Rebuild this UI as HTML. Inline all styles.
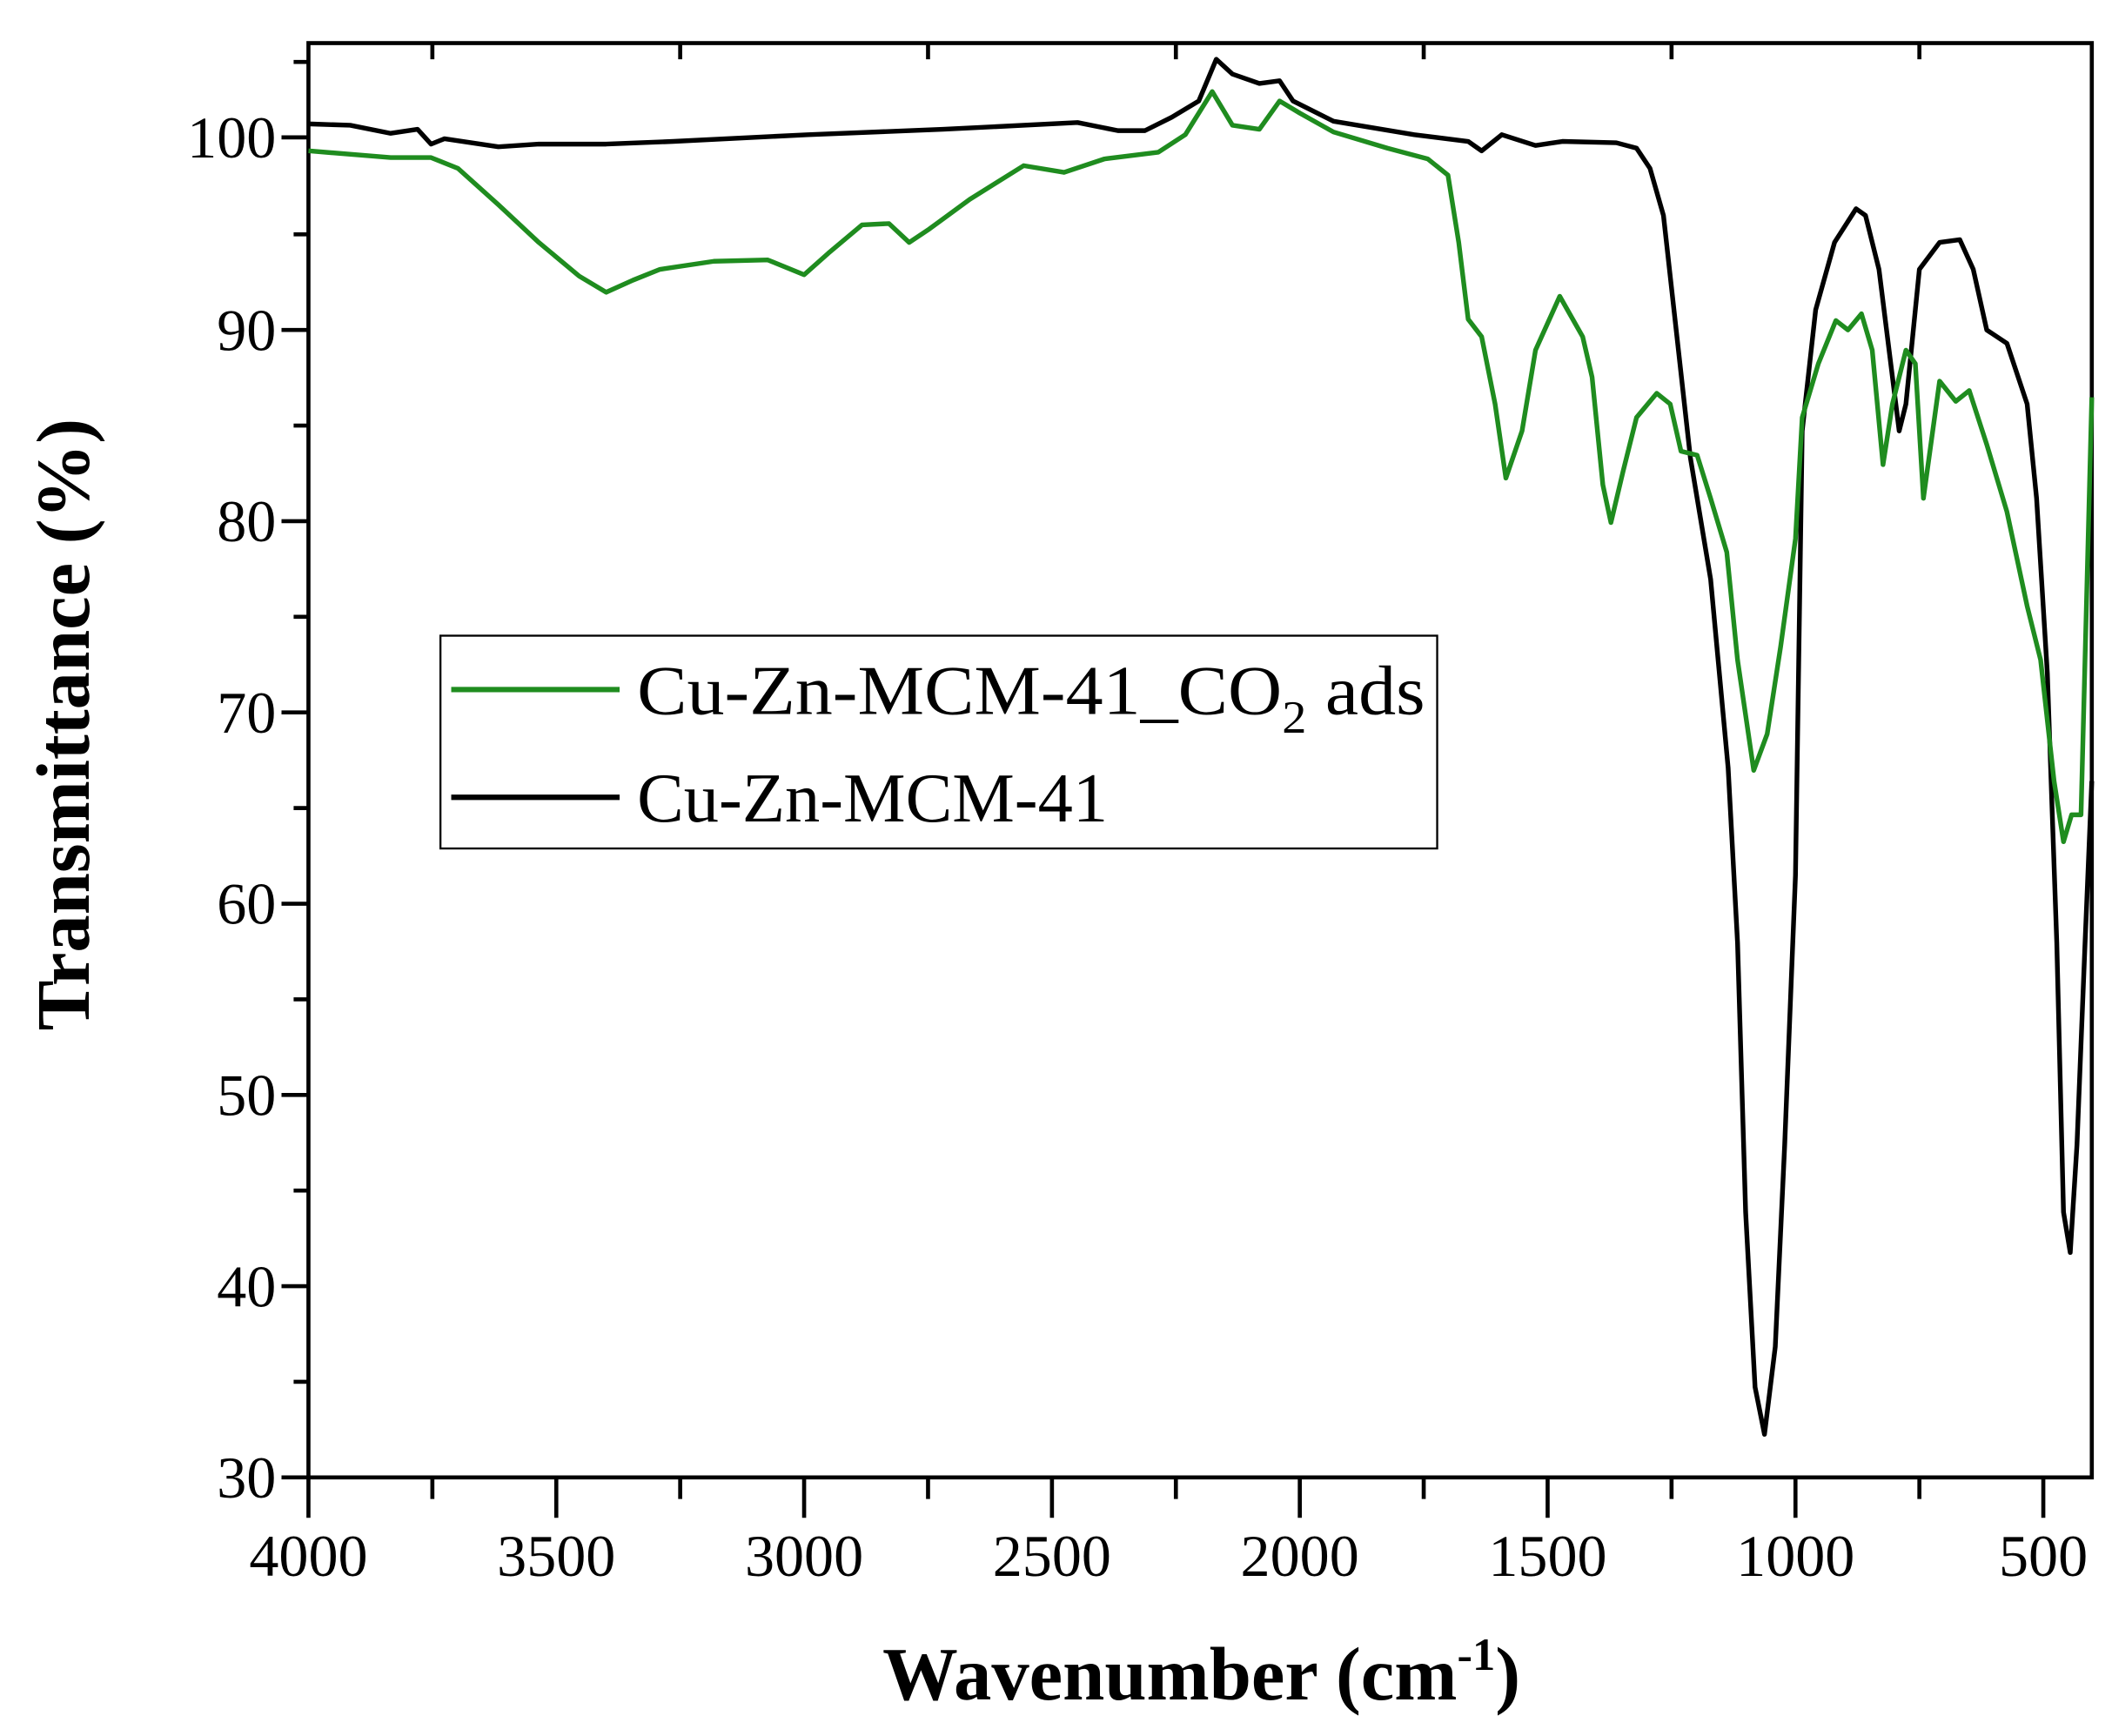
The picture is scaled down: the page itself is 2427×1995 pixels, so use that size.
<!DOCTYPE html>
<html><head><style>html,body{margin:0;padding:0;background:#fff}svg{display:block}</style></head><body>
<svg width="2427" height="1995" viewBox="0 0 1568 1289" preserveAspectRatio="none" xmlns="http://www.w3.org/2000/svg" font-family="'Liberation Serif', serif">
<rect width="1568" height="1289" fill="#fff"/>
<g stroke="#000" stroke-width="3" fill="none">
<rect x="229" y="32" width="1324" height="1065"/>
<path d="M229,1097v30M413,1097v30M597,1097v30M781,1097v30M965,1097v30M1149,1097v30M1333,1097v30M1517,1097v30"/>
<path d="M321,1097v16M505,1097v16M689,1097v16M873,1097v16M1057,1097v16M1241,1097v16M1425,1097v16"/>
<path d="M321,32v12M505,32v12M689,32v12M873,32v12M1057,32v12M1241,32v12M1425,32v12"/>
<path d="M229,1097h-20M229,955h-20M229,813h-20M229,671h-20M229,529h-20M229,387h-20M229,245h-20M229,102h-20"/>
<path d="M229,1026h-11M229,884h-11M229,742h-11M229,600h-11M229,458h-11M229,316h-11M229,174h-11M229,46h-11"/>
</g>
<g font-size="44" text-anchor="end" fill="#000">
<text x="205" y="1112">30</text><text x="205" y="970">40</text><text x="205" y="828">50</text><text x="205" y="686">60</text><text x="205" y="544">70</text><text x="205" y="402">80</text><text x="205" y="260">90</text><text x="205" y="117">100</text>
</g>
<g font-size="44" text-anchor="middle" fill="#000">
<text x="229" y="1170">4000</text><text x="413" y="1170">3500</text><text x="597" y="1170">3000</text><text x="781" y="1170">2500</text><text x="965" y="1170">2000</text><text x="1149" y="1170">1500</text><text x="1333" y="1170">1000</text><text x="1517" y="1170">500</text>
</g>
<text x="892" y="1262" font-size="56" font-weight="bold" text-anchor="middle">Wavenumber (cm<tspan font-size="34" dy="-22">-1</tspan><tspan dy="22">)</tspan></text>
<text transform="translate(66,538) rotate(-90)" font-size="56" font-weight="bold" text-anchor="middle">Transmittance (%)</text>
<polyline fill="none" stroke="#000" stroke-width="3.5" stroke-linejoin="round" points="229,92 260,93 290,99 310,96 320,107 330,103 370,109 400,107 450,107 500,105 600,100 700,96 800,91 830,97 850,97 870,87 890,75 903,44 915,55 935,62 950,60 960,75 990,90 1050,100 1090,105 1100,112 1115,100 1140,108 1160,105 1200,106 1215,110 1225,125 1235,160 1245,250 1255,340 1270,430 1283,570 1290,700 1296,900 1303,1030 1310,1065 1318,1000 1325,850 1333,650 1338,320 1348,230 1362,180 1378,155 1385,160 1395,200 1405,280 1410,320 1415,300 1425,200 1440,180 1455,178 1465,200 1475,245 1490,255 1505,300 1512,370 1520,500 1527,700 1532,900 1537,930 1542,850 1548,700 1553,580"/>
<polyline fill="none" stroke="#1f8c1f" stroke-width="3.5" stroke-linejoin="round" points="229,112 290,117 320,117 340,125 370,152 400,180 430,205 450,217 470,208 490,200 530,194 570,193 597,204 615,188 640,167 660,166 675,180 690,170 720,148 760,123 790,128 820,118 860,113 880,100 900,68 915,93 935,96 950,75 965,84 990,98 1030,110 1060,118 1075,130 1083,180 1090,237 1100,250 1110,300 1118,355 1130,320 1140,260 1158,220 1175,250 1182,280 1190,360 1196,388 1205,350 1215,310 1230,292 1240,300 1248,335 1260,338 1270,370 1282,410 1290,490 1302,572 1312,545 1322,480 1333,400 1338,310 1350,270 1363,238 1372,245 1382,233 1390,260 1398,345 1405,300 1415,260 1422,270 1428,370 1440,283 1452,298 1462,290 1475,330 1490,380 1505,450 1515,490 1525,580 1532,625 1538,605 1545,605 1553,295"/>
<rect x="327" y="472" width="740" height="158" fill="#fff" stroke="#000" stroke-width="1.5"/>
<line x1="335" y1="512" x2="460" y2="512" stroke="#1f8c1f" stroke-width="4"/>
<line x1="335" y1="592" x2="460" y2="592" stroke="#000" stroke-width="4"/>
<text x="473" y="530" font-size="52" textLength="585" lengthAdjust="spacingAndGlyphs">Cu-Zn-MCM-41_CO<tspan font-size="34" dy="14">2</tspan><tspan dy="-14"> ads</tspan></text>
<text x="473" y="610" font-size="52">Cu-Zn-MCM-41</text>
</svg>
</body></html>
